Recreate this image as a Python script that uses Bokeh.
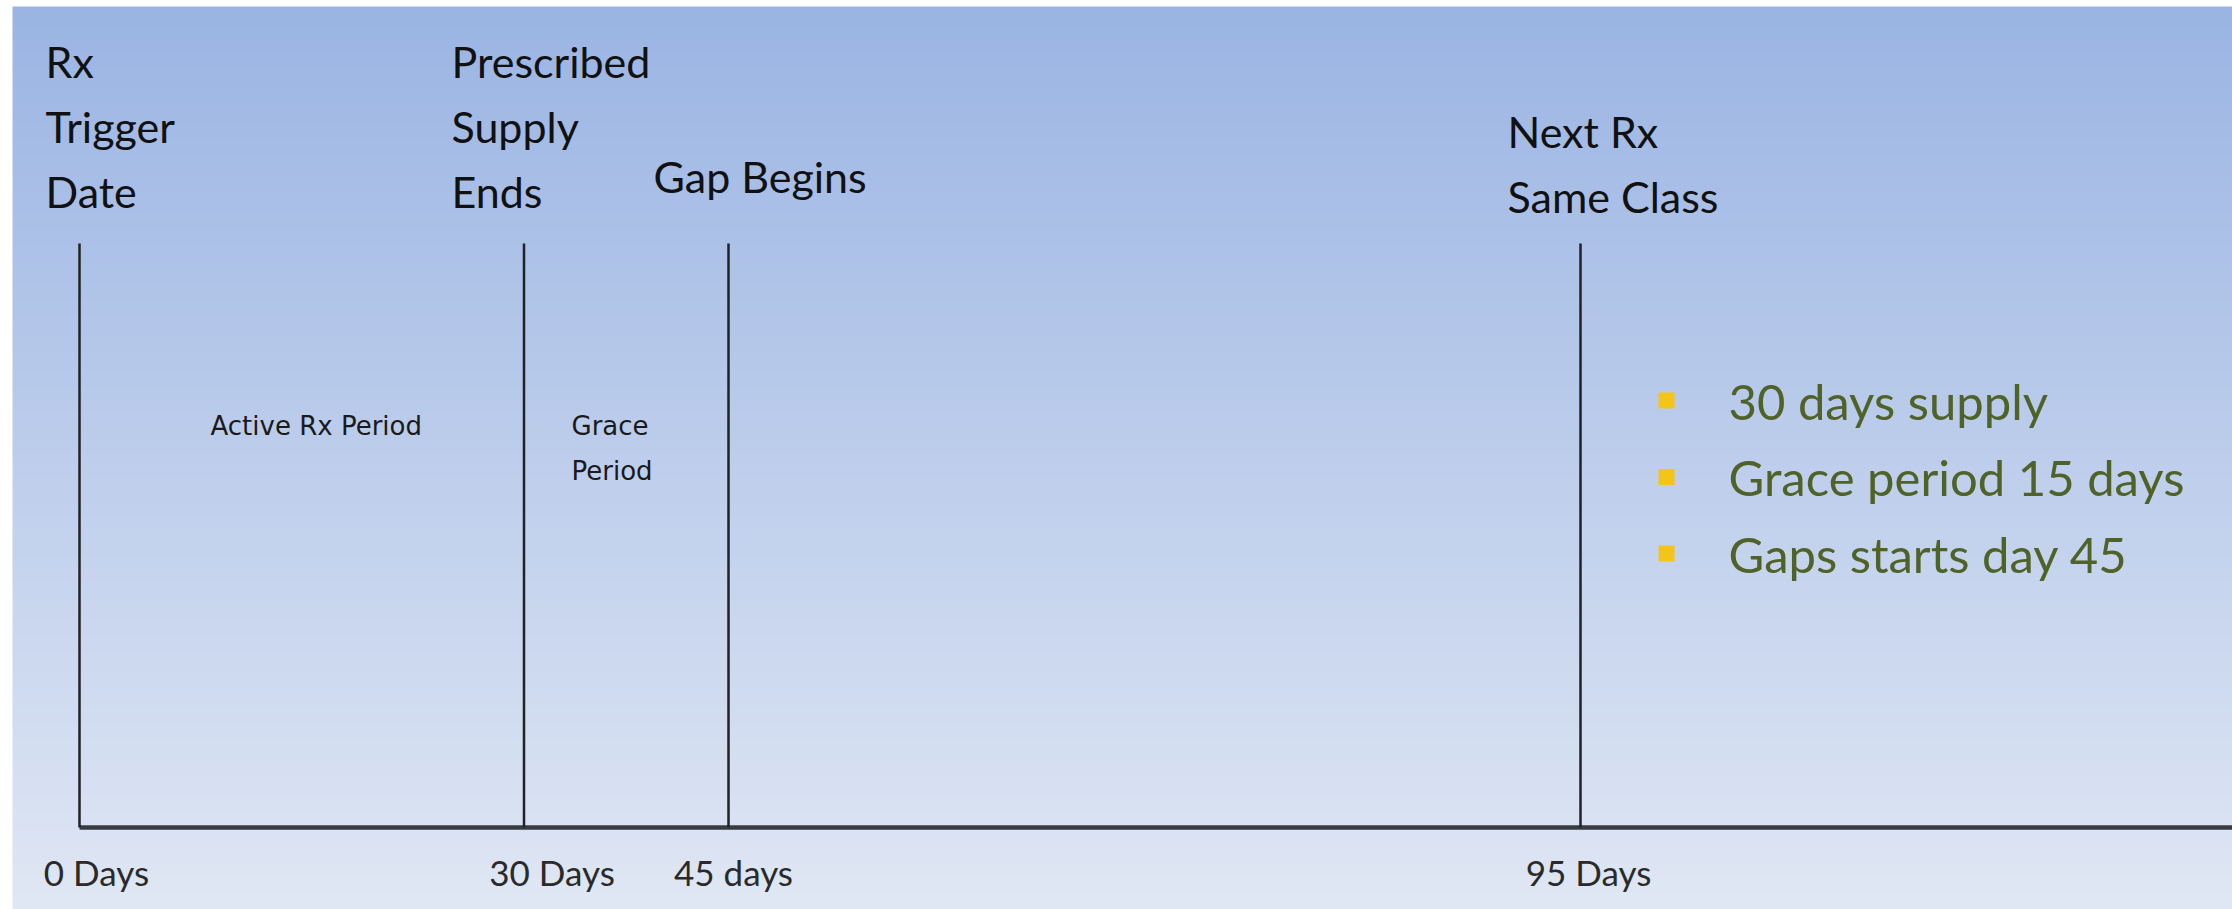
import numpy as np
from bokeh.plotting import figure
from bokeh.models import Range1d
from bokeh.core.properties import value
from bokeh.embed import file_html
from bokeh.resources import INLINE

# ---------------- data ----------------
event_labels = ["Rx\nTrigger\nDate", "Prescribed\nSupply\nEnds", "Gap Begins", "Next Rx\nSame Class"]
event_days = [0, 30, 45, 95]
day_labels = ["0 Days", "30 Days", "45 days", "95 Days"]
# schematic position of each event on the drawn timeline (diagram is not to scale)
event_pos = [0, 444.5, 649, 1501]
period_labels = ["Active Rx Period", "Grace\nPeriod"]
notes = ["30 days supply", "Grace period 15 days", "Gaps starts day 45"]

# ---------------- layout / style ----------------
W, H = 2232, 909
X0, X1 = -79, 2153          # diagram units (1 unit = 1 px)
Y0, Y1 = -82, 827           # y = height above the timeline
tick_top = 584
hdr_dx = [-34, -72.5, -75, -73]
hdr_base = [636, 636, 651, 631]
hdr_gap = 65
day_dx = [17, 28, 5, 8]
day_y = -44
period_dx = [131, 47.5]
period_y = 402
period_gap = 45
note_marker_x = 1587
note_text_x = 1649
note_top_marker = 427
note_top_text = 427
note_gap = 76.5

p = figure(width=W, height=H, x_range=Range1d(X0, X1), y_range=Range1d(Y0, Y1),
           output_backend="svg", toolbar_location=None, min_border=0)
p.axis.visible = False
p.grid.visible = False
p.outline_line_color = None
p.background_fill_color = "white"
p.border_fill_color = "white"

# gradient background
top = np.array([154, 180, 227], dtype=float)
bot = np.array([224, 231, 244], dtype=float)
n = 903
t = np.linspace(0, 1, n)[:, None]
cols = (bot + (top - bot) * t).round().astype(np.uint8)
img = np.empty((n, 1), dtype=np.uint32)
view = img.view(dtype=np.uint8).reshape((n, 1, 4))
view[:, 0, 0:3] = cols
view[:, 0, 3] = 255
p.image_rgba(image=[img], x=X0 + 12, y=Y0, dw=(X1 - X0) - 12, dh=n)

# timeline baseline
p.segment(x0=[event_pos[0]], y0=[0], x1=[X1], y1=[0], line_color="#383c42", line_width=4.5)
# event ticks
p.segment(x0=event_pos, y0=[0] * len(event_pos), x1=event_pos, y1=[tick_top] * len(event_pos),
          line_color="#1f2226", line_width=2.5)

# event headers (one text per line)
hx, hy, ht = [], [], []
for i, lab in enumerate(event_labels):
    lines = lab.split("\n")
    nl = len(lines)
    for j, ln in enumerate(lines):
        hx.append(event_pos[i] + hdr_dx[i])
        hy.append(hdr_base[i] + (nl - 1 - j) * hdr_gap)
        ht.append(ln)
p.text(x=hx, y=hy, text=ht, text_font=value("Lato"), text_font_size="43px",
       text_color="#111111", text_align="left", text_baseline="alphabetic")

# day labels
p.text(x=[event_pos[i] + day_dx[i] for i in range(len(day_labels))], y=[day_y] * len(day_labels),
       text=day_labels, text_font=value("Lato"), text_font_size="35px",
       text_color="#2a2a2a", text_align="center", text_baseline="alphabetic")

# period labels
px_, py_, pt_ = [], [], []
for i, lab in enumerate(period_labels):
    for j, ln in enumerate(lab.split("\n")):
        px_.append(event_pos[i] + period_dx[i])
        py_.append(period_y - j * period_gap)
        pt_.append(ln)
p.text(x=px_, y=py_, text=pt_, text_font=value("DejaVu Sans"), text_font_size="26px",
       text_color="#1a1a1a", text_align="left", text_baseline="alphabetic")

# bullet notes
p.scatter(x=[note_marker_x] * len(notes), y=[note_top_marker - i * note_gap for i in range(len(notes))],
          marker="square", size=16, fill_color="#f4c518", line_color=None)
p.text(x=[note_text_x] * len(notes), y=[note_top_text - i * note_gap for i in range(len(notes))],
       text=notes, text_font=value("Lato"), text_font_size="49px",
       text_color="#4f6228", text_align="left", text_baseline="alphabetic")

open("out.html", "w").write(file_html(p, INLINE))
